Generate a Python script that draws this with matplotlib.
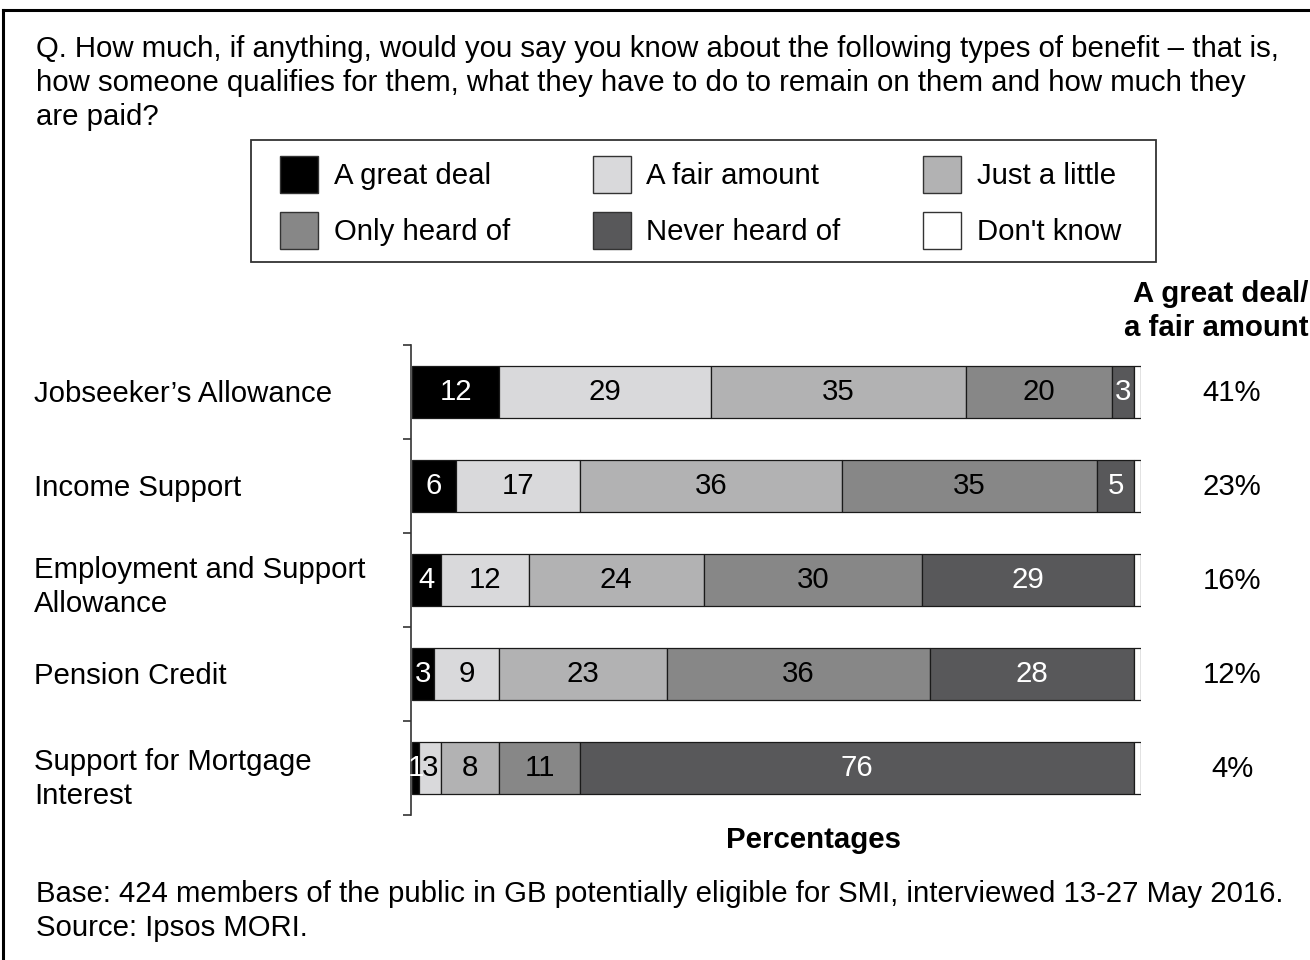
import matplotlib
matplotlib.use("Agg")
import matplotlib.pyplot as plt
from matplotlib.patches import Patch, Rectangle
from matplotlib.lines import Line2D
import numpy as np

plt.rcParams['font.family'] = ['Liberation Sans', 'DejaVu Sans']

categories = [
    "Jobseeker\u2019s Allowance",
    "Income Support",
    "Employment and Support\nAllowance",
    "Pension Credit",
    "Support for Mortgage\nInterest",
]
series_names = ["A great deal", "A fair amount", "Just a little",
                "Only heard of", "Never heard of", "Don't know"]
great_deal = [12, 6, 4, 3, 1]
fair_amount = [29, 17, 12, 9, 3]
just_a_little = [35, 36, 24, 23, 8]
only_heard_of = [20, 35, 30, 36, 11]
never_heard_of = [3, 5, 29, 28, 76]
dont_know = [1, 1, 1, 1, 1]

series = [great_deal, fair_amount, just_a_little,
          only_heard_of, never_heard_of, dont_know]
colors = ["#000000", "#d9d9db", "#b2b2b3", "#878787", "#58585a", "#ffffff"]
text_colors = ["white", "black", "black", "black", "white", None]

FS = 21.2
W, H = 1310, 960
# downward nudge (px) of each category name relative to its bar centre
label_nudge_px = [2, 2, 7, 2, 11]


def fx(px):
    return px / W


def fy(py):
    return 1 - py / H


fig = plt.figure(figsize=(W / 100, H / 100), dpi=100)
ax = fig.add_axes([fx(412), 145 / H, 729 / W, 470 / H])

y = np.arange(len(categories))
left = np.zeros(len(categories))
for vals, col, tcol in zip(series, colors, text_colors):
    vals = np.array(vals, dtype=float)
    ax.barh(y, vals, left=left, height=0.555, color=col,
            edgecolor="#1a1a1a", linewidth=0.9, zorder=2)
    if tcol is not None:
        for yi, (l, v) in enumerate(zip(left, vals)):
            ax.text(l + v / 2, yi, f"{int(v)}", ha="center", va="center",
                    fontsize=FS, color=tcol, zorder=3)
    left += vals

ax.set_xlim(0, 100)
ax.set_ylim(len(categories) - 0.5, -0.5)
for s in ["top", "right", "bottom"]:
    ax.spines[s].set_visible(False)
ax.spines["left"].set_color("#333333")
ax.spines["left"].set_linewidth(1.2)
ax.spines["left"].set_position(("outward", 1))
ax.set_xticks([])
ax.set_yticks(np.arange(-0.5, len(categories) + 0.5, 1.0))
ax.set_yticklabels([])
ax.tick_params(axis="y", length=6, width=1.2, color="#333333", direction="out")

to_fig = fig.transFigure.inverted()

# category names
for yi, name in enumerate(categories):
    yy = to_fig.transform(ax.transData.transform((0, yi)))[1]
    yy -= label_nudge_px[yi] / H
    fig.text(fx(34), yy, name, ha="left", va="center", fontsize=FS,
             linespacing=1.28)

# combined "great deal / fair amount" column
combined = [g + f for g, f in zip(great_deal, fair_amount)]
for yi, v in enumerate(combined):
    yy = to_fig.transform(ax.transData.transform((0, yi)))[1] - 1 / H
    fig.text(fx(1232), yy, f"{v}%", ha="center", va="center", fontsize=FS)
fig.text(fx(1308), fy(311), "A great deal/\na fair amount",
         ha="right", va="center", fontsize=FS, fontweight="bold",
         linespacing=1.28)

fig.text(fx(813), fy(840), "Percentages", ha="center", va="center",
         fontsize=FS, fontweight="bold")

fig.text(fx(36), fy(35),
         "Q. How much, if anything, would you say you know about the following types of benefit \u2013 that is,\n"
         "how someone qualifies for them, what they have to do to remain on them and how much they\n"
         "are paid?",
         ha="left", va="top", fontsize=FS, linespacing=1.28)

fig.text(fx(36), fy(880),
         "Base: 424 members of the public in GB potentially eligible for SMI, interviewed 13-27 May 2016.\n"
         "Source: Ipsos MORI.",
         ha="left", va="top", fontsize=FS, linespacing=1.28)

# legend, row-wise order for 3 columns, with its own box
handles = [Patch(facecolor=c, edgecolor="#333333", linewidth=1.0) for c in colors]
order = [0, 3, 1, 4, 2, 5]
leg = fig.legend([handles[i] for i in order], [series_names[i] for i in order],
                 ncol=3, loc="upper left",
                 bbox_to_anchor=(fx(280), fy(156)),
                 bbox_transform=fig.transFigure, borderaxespad=0,
                 fontsize=FS, frameon=False,
                 handlelength=1.29, handleheight=1.56, handletextpad=0.54,
                 columnspacing=2.8, labelspacing=0.65, borderpad=0)
fig.add_artist(Rectangle((fx(251), fy(262)), fx(1156) - fx(251),
                         fy(140) - fy(262), transform=fig.transFigure,
                         facecolor="none", edgecolor="#333333", linewidth=1.3))

# frame along top and left edges
fig.add_artist(Line2D([fx(3), 1], [fy(10), fy(10)],
                      transform=fig.transFigure, color="black", linewidth=2.2))
fig.add_artist(Line2D([fx(3), fx(3)], [0, fy(10)],
                      transform=fig.transFigure, color="black", linewidth=2.2))

fig.savefig("out.png", dpi=100, facecolor="white")
